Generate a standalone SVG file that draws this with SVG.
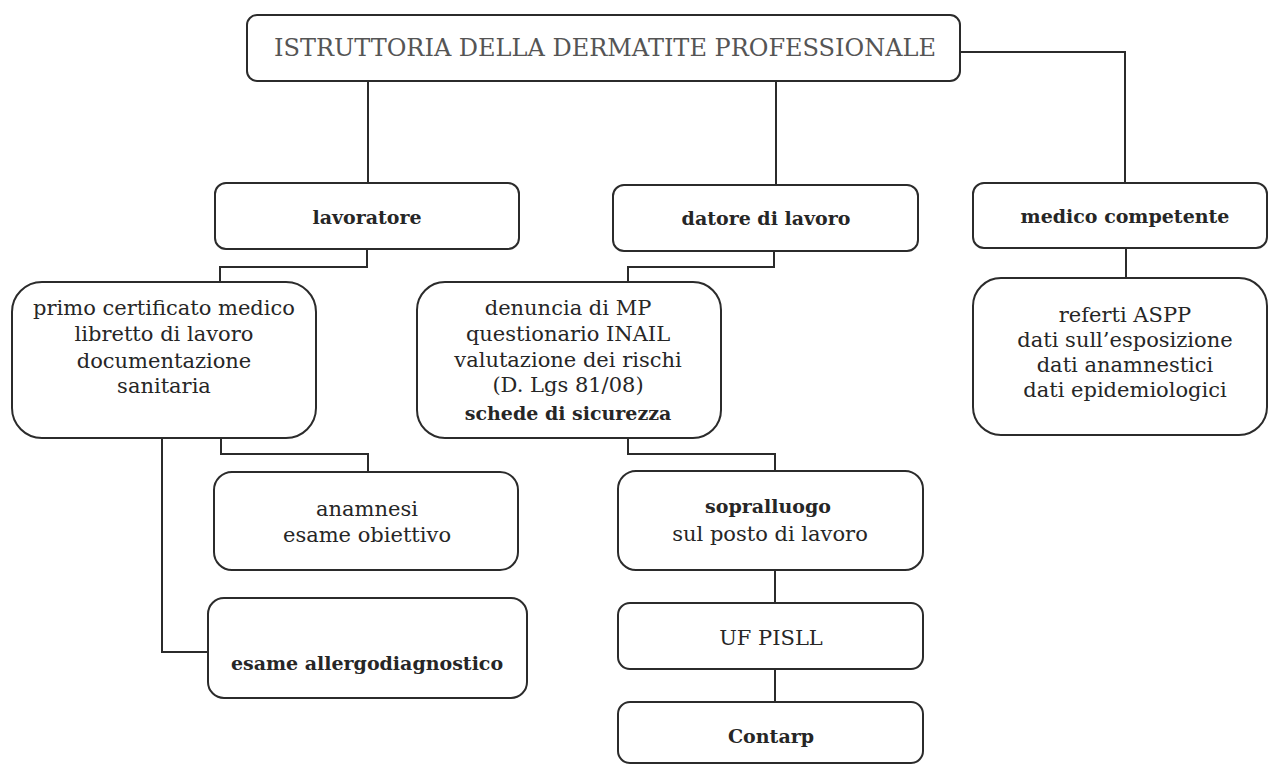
<svg xmlns="http://www.w3.org/2000/svg" width="1268" height="765" viewBox="0 0 1268 765">
<style>
.box{fill:#fff;stroke:#2b2b2b;stroke-width:2}
.con{fill:none;stroke:#2b2b2b;stroke-width:2}
text{font-family:"DejaVu Serif","Liberation Serif",serif;font-size:21px;fill:#262626;text-anchor:middle}
.b{font-weight:bold;font-size:19px}
.title{fill:#555;font-size:24px}
</style>
<rect width="1268" height="765" fill="#fff"/>
<g id="connectors">
<path class="con" d="M368 81V183"/>
<path class="con" d="M776 81V185"/>
<path class="con" d="M960 52H1125V183"/>
<path class="con" d="M367 249V267H220V282"/>
<path class="con" d="M774 251V267H628V282"/>
<path class="con" d="M1126 248V278"/>
<path class="con" d="M221 438V454H368V472"/>
<path class="con" d="M162 438V652H208"/>
<path class="con" d="M628 438V454H775V471"/>
<path class="con" d="M775 570V603"/>
<path class="con" d="M775 669V702"/>
</g>
<g id="title"><rect class="box" x="247" y="15" width="713" height="66" rx="10"/><text class="title" x="605" y="56">ISTRUTTORIA DELLA DERMATITE PROFESSIONALE</text></g>
<g id="lavoratore"><rect class="box" x="215" y="183" width="304" height="66" rx="11"/><text class="b" x="367" y="224">lavoratore</text></g>
<g id="datore"><rect class="box" x="613" y="185" width="305" height="66" rx="11"/><text class="b" x="766" y="225">datore di lavoro</text></g>
<g id="medico"><rect class="box" x="973" y="183" width="294" height="65" rx="11"/><text class="b" x="1125" y="223">medico competente</text></g>
<g id="primo"><rect class="box" x="12" y="282" width="304" height="156" rx="30"/>
<text x="164" y="315">primo certificato medico</text>
<text x="164" y="341">libretto di lavoro</text>
<text x="164" y="368">documentazione</text>
<text x="164" y="393">sanitaria</text></g>
<g id="denuncia"><rect class="box" x="417" y="282" width="304" height="156" rx="28"/>
<text x="568" y="315">denuncia di MP</text>
<text x="568" y="341">questionario INAIL</text>
<text x="568" y="367">valutazione dei rischi</text>
<text x="568" y="392">(D. Lgs 81/08)</text>
<text class="b" x="568" y="420">schede di sicurezza</text></g>
<g id="referti"><rect class="box" x="973" y="278" width="294" height="157" rx="28"/>
<text x="1125" y="322">referti ASPP</text>
<text x="1125" y="347">dati sull’esposizione</text>
<text x="1125" y="372">dati anamnestici</text>
<text x="1125" y="397">dati epidemiologici</text></g>
<g id="anamnesi"><rect class="box" x="214" y="472" width="304" height="98" rx="18"/>
<text x="367" y="516">anamnesi</text>
<text x="367" y="542">esame obiettivo</text></g>
<g id="allergo"><rect class="box" x="208" y="598" width="319" height="100" rx="16"/>
<text class="b" x="367" y="670">esame allergodiagnostico</text></g>
<g id="sopralluogo"><rect class="box" x="618" y="471" width="305" height="99" rx="18"/>
<text class="b" x="768" y="513">sopralluogo</text>
<text x="770" y="541">sul posto di lavoro</text></g>
<g id="ufpisll"><rect class="box" x="618" y="603" width="305" height="66" rx="12"/>
<text x="771" y="645">UF PISLL</text></g>
<g id="contarp"><rect class="box" x="618" y="702" width="305" height="61" rx="12"/>
<text class="b" x="771" y="743">Contarp</text></g>
</svg>
